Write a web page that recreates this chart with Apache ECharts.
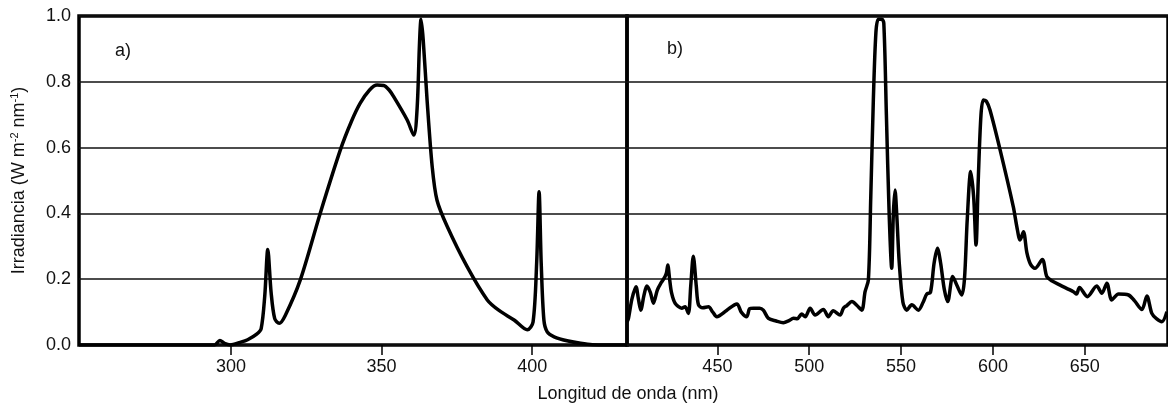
<!DOCTYPE html>
<html>
<head>
<meta charset="utf-8">
<script src="https://cdn.jsdelivr.net/npm/echarts@6/dist/echarts.min.js"></script>
<style>
  html, body { margin: 0; padding: 0; background: #fff; }
  #chart { width: 1168px; height: 408px; }
</style>
</head>
<body>
<div id="chart"></div>
<script>
// panel a) UV lamp spectrum
const waveA = [249.5, 290, 294.5, 296.3, 297.8, 299.7, 303, 305.5, 308.5, 310, 311.2, 312.2, 313.3, 314.5, 316, 318, 323, 329.6, 336.3, 340, 342.9, 346, 348.5, 350.7, 352.5, 354, 358.5, 360.7, 361.8, 362.6, 363.1, 363.8, 365.1, 366.8, 368.4, 371.8, 378.4, 385.1, 389, 394, 398.4, 400.3, 401.5, 402.3, 403, 403.9, 405, 407.3, 412, 416.1, 420, 431.5]
const irrA = [0, 0, 0, 0.014, 0.005, 0, 0.008, 0.016, 0.033, 0.05, 0.15, 0.29, 0.16, 0.08, 0.066, 0.09, 0.198, 0.4, 0.593, 0.68, 0.735, 0.775, 0.79, 0.789, 0.775, 0.755, 0.684, 0.638, 0.72, 0.92, 0.99, 0.93, 0.745, 0.542, 0.44, 0.36, 0.238, 0.137, 0.105, 0.076, 0.046, 0.07, 0.25, 0.466, 0.25, 0.076, 0.04, 0.025, 0.012, 0.005, 0.001, 0]

// panel b) visible spectrum
const waveB = [400.8, 401.6, 403.5, 405.7, 407, 408.3, 410, 411.6, 413.5, 415.2, 417.3, 419.5, 421.5, 422.3, 423, 424, 425, 427, 430.6, 432.4, 434.2, 435.5, 436.9, 438.5, 439.7, 442, 445.1, 447.5, 449.7, 455, 460.6, 463, 466, 467.5, 469.6, 473, 475, 477.8, 482, 485.9, 489, 491.4, 493.5, 495.9, 497.8, 500.5, 503.2, 507.7, 510.4, 513.1, 516.8, 518.6, 520.5, 523.2, 526, 528.6, 530.4, 532.2, 533.5, 534.9, 536.3, 537.6, 539.5, 540.6, 542, 543.5, 544.9, 545.8, 546.7, 547.6, 549, 551, 553.1, 555.8, 559.4, 562, 564, 566, 568, 569.8, 571.5, 573.5, 575.4, 578.1, 580.5, 583, 584.5, 586, 587.9, 589.5, 590.8, 592, 593.5, 594.8, 596.5, 598.4, 603.9, 611.1, 613, 614.8, 616.6, 618.5, 620.5, 622.9, 626.9, 629.3, 632, 636.6, 643.8, 645.5, 647.1, 651.4, 656.5, 659.3, 662, 664.7, 668.4, 673.8, 677, 681.1, 683.8, 686.5, 689, 692, 694.7]
const irrB = [0.07, 0.081, 0.14, 0.177, 0.14, 0.106, 0.15, 0.179, 0.16, 0.127, 0.167, 0.19, 0.208, 0.22, 0.243, 0.2, 0.16, 0.127, 0.112, 0.116, 0.096, 0.18, 0.27, 0.18, 0.122, 0.113, 0.116, 0.1, 0.086, 0.105, 0.125, 0.1, 0.086, 0.11, 0.112, 0.112, 0.106, 0.081, 0.073, 0.068, 0.074, 0.081, 0.08, 0.094, 0.086, 0.112, 0.091, 0.108, 0.086, 0.104, 0.091, 0.112, 0.12, 0.132, 0.12, 0.106, 0.162, 0.198, 0.45, 0.745, 0.95, 0.99, 0.99, 0.978, 0.7, 0.4, 0.233, 0.4, 0.471, 0.4, 0.25, 0.13, 0.106, 0.122, 0.106, 0.13, 0.155, 0.16, 0.25, 0.294, 0.25, 0.17, 0.132, 0.208, 0.18, 0.152, 0.2, 0.38, 0.527, 0.45, 0.304, 0.5, 0.7, 0.745, 0.74, 0.714, 0.593, 0.42, 0.36, 0.319, 0.344, 0.28, 0.245, 0.233, 0.26, 0.208, 0.195, 0.182, 0.162, 0.155, 0.175, 0.147, 0.179, 0.157, 0.188, 0.137, 0.155, 0.152, 0.135, 0.108, 0.149, 0.096, 0.08, 0.071, 0.101]

const ticksA = [300, 350, 400]
const ticksB = [450, 500, 550, 600, 650]
const yMin = 0, yMax = 1, yStep = 0.2

const font = 'Liberation Sans, Arial, sans-serif'
const pairs = (xs, ys) => xs.map((x, i) => [x, ys[i]])

const xAxisBase = (gridIndex, min, max, ticks) => ({
  type: 'value', gridIndex, min, max,
  axisLine: { show: false },
  axisTick: { show: true, customValues: ticks, length: 10, lineStyle: { color: '#000', width: 1.5 } },
  axisLabel: { customValues: ticks, margin: 13, color: '#111', fontSize: 18, fontFamily: font },
  splitLine: { show: false }
})

const yAxisBase = (gridIndex, showLabels) => ({
  type: 'value', gridIndex, min: yMin, max: yMax, interval: yStep,
  axisLine: { show: false },
  axisTick: { show: false },
  axisLabel: { show: showLabels, margin: 8, color: '#111', fontSize: 18, fontFamily: font, formatter: v => v.toFixed(1) },
  splitLine: { show: true, lineStyle: { color: '#111', width: 1.5 } }
})

const lineSeries = (idx, data) => ({
  type: 'line', xAxisIndex: idx, yAxisIndex: idx, data,
  showSymbol: false, smooth: 0.3,
  lineStyle: { color: '#000', width: 3.5, join: 'round' },
  z: 3
})

const chart = echarts.init(document.getElementById('chart'))
chart.setOption({
  animation: false,
  textStyle: { fontFamily: font },
  grid: [
    { left: 79, top: 16, width: 548, height: 329, show: true, borderColor: '#000', borderWidth: 3.5 },
    { left: 627, top: 16, right: -4, height: 329, show: true, borderColor: '#000', borderWidth: 3.5 }
  ],
  xAxis: [xAxisBase(0, 249.5, 431.5, ticksA), xAxisBase(1, 400.8, 695.3, ticksB)],
  yAxis: [
    Object.assign(yAxisBase(0, true), {
      name: '{a|Irradiancia (W m}{s|-2}{a| nm}{s|-1}{a|)}',
      nameLocation: 'middle', nameRotate: 90, nameGap: 50,
      nameTextStyle: {
        rich: {
          a: { fontSize: 18, fontFamily: font, color: '#111', lineHeight: 20 },
          s: { fontSize: 11, fontFamily: font, color: '#111', verticalAlign: 'top', lineHeight: 20 }
        }
      }
    }),
    yAxisBase(1, false)
  ],
  graphic: [
    { type: 'text', left: 115, top: 42, style: { text: 'a)', fontSize: 18, fontFamily: font, fill: '#111' } },
    { type: 'text', left: 667, top: 40, style: { text: 'b)', fontSize: 18, fontFamily: font, fill: '#111' } },
    { type: 'text', x: 628, y: 394, style: { text: 'Longitud de onda (nm)', fontSize: 18, fontFamily: font, fill: '#111', align: 'center', verticalAlign: 'middle' } }
  ],
  series: [lineSeries(0, pairs(waveA, irrA)), lineSeries(1, pairs(waveB, irrB))]
})
</script>
</body>
</html>
